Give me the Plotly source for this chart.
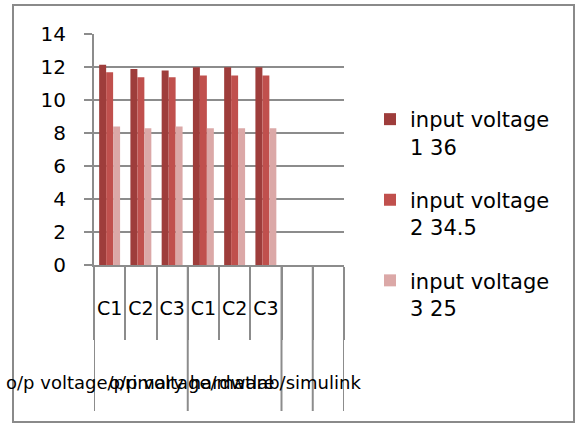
import plotly.graph_objects as go

# Category labels: inner level (per bar group) and outer level (spanning groups)
inner_labels = ["C1", "C2", "C3", "C1", "C2", "C3", "", ""]
outer_labels = ["o/p voltage/primary hardware", "o/p voltage/matlab/simulink", "", ""]
outer_sizes = [3, 3, 1, 1]

series_names = ["input voltage<br>1 36", "input voltage<br>2 34.5", "input voltage<br>3 25"]
series_colors = ["#9E3D3B", "#C0504D", "#DBA8A7"]
voltage_1_36 = [12.15, 11.9, 11.8, 12.0, 12.0, 12.0]
voltage_2_345 = [11.7, 11.4, 11.4, 11.5, 11.5, 11.5]
voltage_3_25 = [8.4, 8.3, 8.4, 8.3, 8.3, 8.3]
series_values = [voltage_1_36, voltage_2_345, voltage_3_25]

y_ticks = [0, 2, 4, 6, 8, 10, 12, 14]

W, H = 577, 424
FONT = "DejaVu Sans"
GRID = "#8C8C8C"

n_cat = len(inner_labels)
positions = list(range(n_cat))
boundaries = [p - 0.5 for p in range(n_cat + 1)]

fig = go.Figure()
for name, color, vals in zip(series_names, series_colors, series_values):
    fig.add_trace(go.Bar(
        x=positions[:len(vals)], y=vals, name=name,
        marker=dict(color=color, line=dict(width=0)),
        legendgroup=name,
    ))

# outer-level group dividers and labels
shapes = []
annotations = []
start = 0
group_edges = [boundaries[0]]
for label, size in zip(outer_labels, outer_sizes):
    center = start + (size - 1) / 2
    if label:
        annotations.append(dict(
            x=center, xref="x", y=(H - 382) / H, yref="paper",
            text=label, showarrow=False, xanchor="center", yanchor="middle",
            font=dict(family=FONT, size=18, color="#000000"),
        ))
    start += size
    group_edges.append(start - 0.5)

for edge in group_edges:
    shapes.append(dict(
        type="line", xref="x", yref="paper",
        x0=edge, x1=edge, y0=(H - 265) / H, y1=(H - 411) / H,
        line=dict(color=GRID, width=2),
    ))

# chart frame
shapes.append(dict(
    type="rect", xref="paper", yref="paper",
    x0=13 / W, x1=574 / W, y0=2 / H, y1=(H - 5) / H,
    line=dict(color="#8A8A8A", width=2), fillcolor="rgba(0,0,0,0)",
))

fig.update_layout(
    width=W, height=H,
    margin=dict(l=0, r=0, t=0, b=0, autoexpand=False),
    paper_bgcolor="white", plot_bgcolor="white",
    barmode="group", bargap=0.33, bargroupgap=0,
    font=dict(family=FONT, color="#000000"),
    shapes=shapes,
    annotations=annotations,
    legend=dict(
        x=370 / W, xanchor="left", y=(H - 99) / H, yanchor="top",
        font=dict(family=FONT, size=21, color="#000000"),
        traceorder="grouped", tracegroupgap=23, valign="top",
        bgcolor="rgba(0,0,0,0)",
    ),
    xaxis=dict(
        domain=[94 / W, 344 / W],
        range=[boundaries[0], boundaries[-1]],
        tickmode="array", tickvals=positions, ticktext=inner_labels,
        ticks="", ticklabelstandoff=25,
        tickfont=dict(family=FONT, size=19, color="#000000"),
        showgrid=False, zeroline=False,
        showline=True, linecolor=GRID, linewidth=2,
        minor=dict(
            tickmode="array", tickvals=boundaries, ticks="outside",
            ticklen=73, tickwidth=2, tickcolor=GRID, showgrid=False,
        ),
    ),
    yaxis=dict(
        domain=[(H - 265) / H, (H - 34.3) / H],
        range=[0, 14],
        tickmode="array", tickvals=y_ticks,
        ticks="outside", ticklen=8, tickwidth=2, tickcolor=GRID,
        ticklabelstandoff=14,
        tickfont=dict(family=FONT, size=20, color="#000000"),
        showgrid=True, gridcolor=GRID, gridwidth=2,
        zeroline=False,
        showline=True, linecolor=GRID, linewidth=2,
    ),
)

fig.write_html("out.html")
